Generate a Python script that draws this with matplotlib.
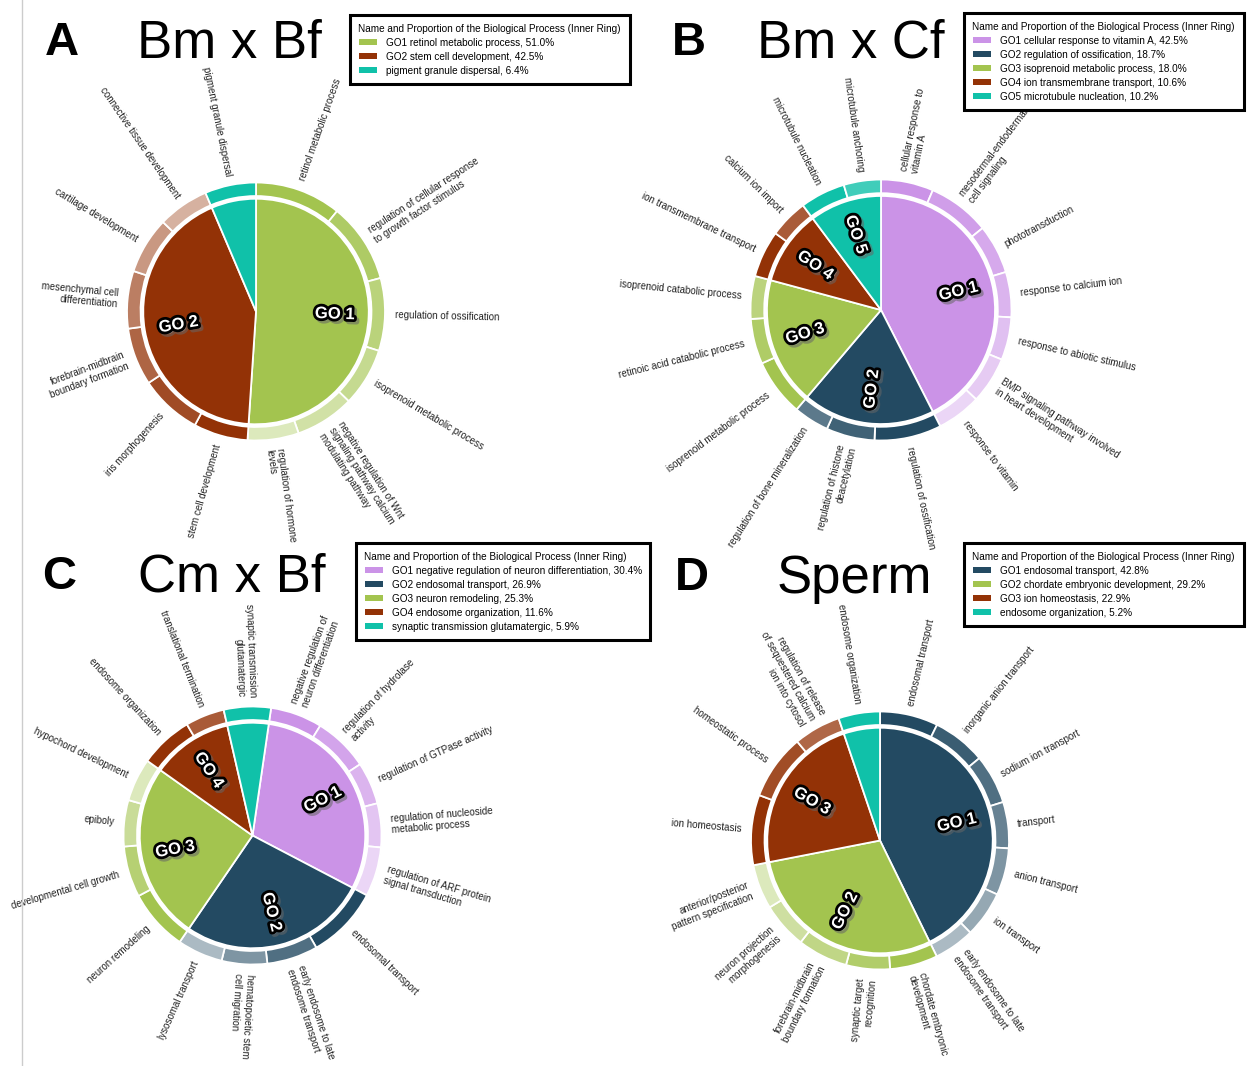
import matplotlib.pyplot as plt
import matplotlib.patheffects as pe
from matplotlib.patches import Patch
from matplotlib.lines import Line2D
from matplotlib.colors import to_rgb
import numpy as np

plt.rcParams['font.family'] = ['Liberation Sans', 'DejaVu Sans']

GREEN, BROWN, TEAL = '#a3c44f', '#933206', '#10c1a9'
PURPLE, NAVY = '#cb93e7', '#234a62'

# ---- panel A : Bm x Bf
a_names = ['GO1 retinol metabolic process', 'GO2 stem cell development', 'pigment granule dispersal']
a_inner = [51.0, 42.5, 6.4]
a_tags = ['GO 1', 'GO 2', '']
a_colors = [GREEN, BROWN, TEAL]
a_outer = [[10.8, 10.0, 9.1, 7.3, 7.4, 6.4],
           [6.8, 7.8, 7.2, 7.2, 7.1, 6.4],
           [6.4]]
a_outer_labels = [
    ['retinol metabolic process', 'regulation of cellular response\nto growth factor stimulus',
     'regulation of ossification', 'isoprenoid metabolic process',
     'negative regulation of Wnt\nsignaling pathway calcium\nmodulating pathway', 'regulation of hormone\nlevels'],
    ['stem cell development', 'iris morphogenesis', 'forebrain-midbrain\nboundary formation',
     'mesenchymal cell\ndifferentiation', 'cartilage development', 'connective tissue development'],
    ['pigment granule dispersal']]

# ---- panel B : Bm x Cf
b_names = ['GO1 cellular response to vitamin A', 'GO2 regulation of ossification',
           'GO3 isoprenoid metabolic process', 'GO4 ion transmembrane transport', 'GO5 microtubule nucleation']
b_inner = [42.5, 18.7, 18.0, 10.6, 10.2]
b_tags = ['GO 1', 'GO 2', 'GO 3', 'GO 4', 'GO 5']
b_colors = [PURPLE, NAVY, GREEN, BROWN, TEAL]
b_outer = [[6.5, 7.7, 6.1, 5.6, 5.3, 5.8, 5.5],
           [8.3, 6.0, 4.4],
           [7.1, 5.6, 5.3],
           [5.8, 4.8],
           [5.6, 4.6]]
b_outer_labels = [
    ['cellular response to\nvitamin A', 'mesodermal-endodermal\ncell signaling', 'phototransduction',
     'response to calcium ion', 'response to abiotic stimulus',
     'BMP signaling pathway involved\nin heart development', 'response to vitamin'],
    ['regulation of ossification', 'regulation of histone\ndeacetylation', 'regulation of bone mineralization'],
    ['isoprenoid metabolic process', 'retinoic acid catabolic process', 'isoprenoid catabolic process'],
    ['ion transmembrane transport', 'calcium ion import'],
    ['microtubule nucleation', 'microtubule anchoring']]

# ---- panel C : Cm x Bf
c_names = ['GO1 negative regulation of neuron differentiation', 'GO2 endosomal transport',
           'GO3 neuron remodeling', 'GO4 endosome organization', 'synaptic transmission glutamatergic']
c_inner = [30.4, 26.9, 25.3, 11.6, 5.9]
c_tags = ['GO 1', 'GO 2', 'GO 3', 'GO 4', '']
c_colors = [PURPLE, NAVY, GREEN, BROWN, TEAL]
c_outer = [[6.5, 6.9, 5.3, 5.5, 6.2],
           [9.1, 6.4, 5.7, 5.7],
           [7.7, 6.4, 5.8, 5.4],
           [6.7, 4.9],
           [5.9]]
c_outer_labels = [
    ['negative regulation of\nneuron differentiation', 'regulation of hydrolase\nactivity',
     'regulation of GTPase activity', 'regulation of nucleoside\nmetabolic process',
     'regulation of ARF protein\nsignal transduction'],
    ['endosomal transport', 'early endosome to late\nendosome transport',
     'hematopoietic stem\ncell migration', 'lysosomal transport'],
    ['neuron remodeling', 'developmental cell growth', 'epiboly', 'hypochord development'],
    ['endosome organization', 'translational termination'],
    ['synaptic transmission\nglutamatergic']]

# ---- panel D : Sperm
d_names = ['GO1 endosomal transport', 'GO2 chordate embryonic development',
           'GO3 ion homeostasis', 'endosome organization']
d_inner = [42.8, 29.2, 22.9, 5.2]
d_tags = ['GO 1', 'GO 2', 'GO 3', '']
d_colors = [NAVY, GREEN, BROWN, TEAL]
d_outer = [[7.3, 6.7, 6.2, 5.8, 5.9, 5.8, 5.1],
           [6.0, 5.5, 6.3, 5.8, 5.6],
           [8.8, 8.2, 5.9],
           [5.2]]
d_outer_labels = [
    ['endosomal transport', 'inorganic anion transport', 'sodium ion transport', 'transport',
     'anion transport', 'ion transport', 'early endosome to late\nendosome transport'],
    ['chordate embryonic\ndevelopment', 'synaptic target\nrecognition', 'forebrain-midbrain\nboundary formation',
     'neuron projection\nmorphogenesis', 'anterior/posterior\npattern specification'],
    ['ion homeostasis', 'homeostatic process',
     'regulation of release\nof sequestered calcium\nion into cytosol'],
    ['endosome organization']]

W, H = 1248, 1066
fig = plt.figure(figsize=(W / 100, H / 100), dpi=100)
fig.add_artist(Line2D([21.5 / W, 21.5 / W], [0, 1], color='#cccccc', lw=1))


def lighten(color, m):
    rgb = np.array(to_rgb(color))
    return tuple(rgb + (1 - rgb) * m)


def radial_text(ax, mid, r, start, text, center=False, **kw):
    rad = np.deg2rad(mid)
    if (start - mid) % 360 < 180:
        rot, ha = mid, 'left'
    else:
        rot, ha = mid + 180, 'right'
    if center:
        ha = 'center'
    ax.text(r * np.cos(rad), r * np.sin(rad), text, rotation=rot, rotation_mode='anchor',
            ha=ha, va='center', **kw)


go_effects = [pe.Stroke(linewidth=4, foreground='#666666', alpha=0.55, offset=(1.8, -1.8)),
              pe.Stroke(linewidth=4, foreground='black'), pe.Normal()]


def draw_panel(cx, cy, R, inner, outer, outer_labels, colors, tags, start=90):
    half = 150
    ax = fig.add_axes([(cx - half) / W, 1 - (cy + half) / H, 2 * half / W, 2 * half / H])
    in_w, _ = ax.pie(inner, radius=0.874, colors=colors, startangle=start, counterclock=False,
                     wedgeprops=dict(edgecolor='white', linewidth=1.3))
    vals, cols, labs = [], [], []
    for c, grp, glab in zip(colors, outer, outer_labels):
        n = len(grp)
        step = {1: 0, 2: 0.2, 3: 0.13}.get(n, 0.62 / max(n - 1, 1))
        for i, (v, lab) in enumerate(zip(grp, glab)):
            vals.append(v)
            cols.append(lighten(c, i * step))
            labs.append(lab)
    out_w, _ = ax.pie(vals, radius=1.0, colors=cols, startangle=start, counterclock=False,
                      wedgeprops=dict(width=0.105, edgecolor='white', linewidth=1.3))
    lim = half / R
    ax.set_xlim(-lim, lim)
    ax.set_ylim(-lim, lim)
    for w, lab in zip(out_w, labs):
        radial_text(ax, (w.theta1 + w.theta2) / 2, 1.075, start, lab, fontsize=7, color='#222222')
    for w, tag in zip(in_w, tags):
        if tag:
            radial_text(ax, (w.theta1 + w.theta2) / 2, 0.61, start, tag, center=True,
                        fontsize=12, fontweight='bold', color='white', path_effects=go_effects)


def legend(x0, y0, names, inner, colors):
    handles = [Patch(facecolor=c, edgecolor='none', label=f'{n}, {v:.1f}%')
               for n, v, c in zip(names, inner, colors)]
    leg = fig.legend(handles=handles, loc='upper left', bbox_to_anchor=(x0 / W, 1 - y0 / H),
                     title='Name and Proportion of the Biological Process (Inner Ring)',
                     title_fontsize=7.2, fontsize=7.2, frameon=True, fancybox=False, framealpha=1,
                     edgecolor='black', handlelength=1.8, handleheight=0.6, handletextpad=0.9,
                     labelspacing=0.4, borderpad=0.85, borderaxespad=0, alignment='left')
    leg.get_frame().set_linewidth(2.2)


def titles(lx, tx, y, letter, title):
    fig.text(lx / W, 1 - y / H, letter, fontsize=34, fontweight='bold', ha='left', va='baseline')
    fig.text(tx / W, 1 - (y + 3) / H, title, fontsize=38, ha='left', va='baseline')


draw_panel(256, 311.5, 129, a_inner, a_outer, a_outer_labels, a_colors, a_tags)
draw_panel(881, 310, 130.5, b_inner, b_outer, b_outer_labels, b_colors, b_tags)
draw_panel(252.5, 835.5, 129, c_inner, c_outer, c_outer_labels, c_colors, c_tags, start=81.7)
draw_panel(880, 840.5, 129, d_inner, d_outer, d_outer_labels, d_colors, d_tags)

legend(350, 15, a_names, a_inner, a_colors)
legend(964, 13, b_names, b_inner, b_colors)
legend(356, 543, c_names, c_inner, c_colors)
legend(964, 543, d_names, d_inner, d_colors)

titles(45, 137, 55, 'A', 'Bm x Bf')
titles(672, 757, 55, 'B', 'Bm x Cf')
titles(42, 138, 589, 'C', 'Cm x Bf')
titles(675, 777, 590, 'D', 'Sperm')

fig.savefig('out.png', dpi=100)
